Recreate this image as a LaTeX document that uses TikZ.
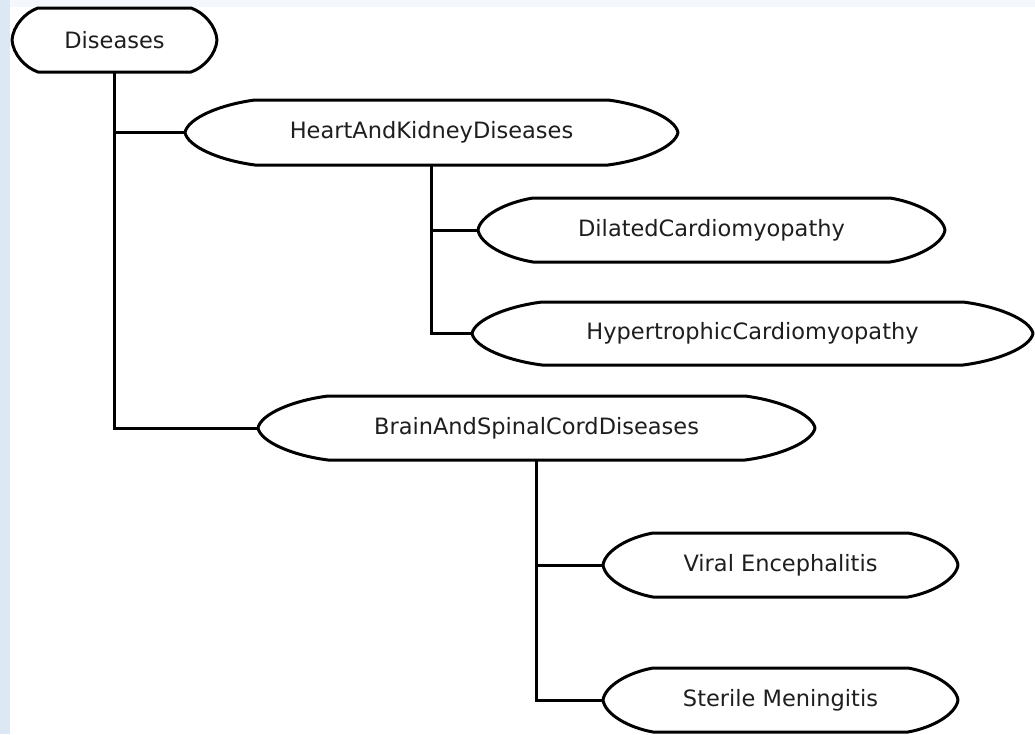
\documentclass[tikz,border=0pt]{standalone}
\usepackage{fontspec}
\setmainfont{DejaVu Sans}
\usetikzlibrary{calc}
\definecolor{bgleft}{RGB}{221,232,245}
\definecolor{bgtop}{RGB}{244,248,253}
\definecolor{txt}{RGB}{30,30,30}
\tikzset{
  box/.style={inner sep=0pt, outer sep=0pt, text=txt, font=\fontsize{22.5}{26}\selectfont},
  outline/.style={line width=3pt, black, line join=round},
  conn/.style={line width=3pt, black},
}
\newcommand\capsuleshape[2]{%
  \draw[outline] let \p1=(#1.north west), \p2=(#1.south east),
     \n1={(\y1+\y2)/2}, \n2={\y1-\y2} in
   ({\x1+#2},\y1) -- ({\x2-#2},\y1)
   .. controls ({\x2-0.5*#2},{\y1-0.07*\n2}) and ({\x2-0.04*#2},{\n1+0.22*\n2}) .. (\x2,\n1)
   .. controls ({\x2-0.04*#2},{\n1-0.22*\n2}) and ({\x2-0.5*#2},{\y2+0.07*\n2}) .. ({\x2-#2},\y2)
   -- ({\x1+#2},\y2)
   .. controls ({\x1+0.5*#2},{\y2+0.07*\n2}) and ({\x1+0.04*#2},{\n1-0.22*\n2}) .. (\x1,\n1)
   .. controls ({\x1+0.04*#2},{\n1+0.22*\n2}) and ({\x1+0.5*#2},{\y1-0.07*\n2}) .. cycle;}
\begin{document}
\begin{tikzpicture}[x=1pt,y=1pt]
\useasboundingbox (0,0) rectangle (1035,-734);
\fill[white] (0,0) rectangle (1035,-734);
\fill[bgtop] (0,0) rectangle (1035,-7);
\fill[bgleft] (0,0) rectangle (10,-734);

\node[box, minimum width=205pt, minimum height=64pt] (dis) at (114.5,-40) {Diseases};
\node[box, minimum width=493pt, minimum height=65pt] (hk) at (431.5,-132.5) {HeartAndKidneyDiseases};
\node[box, minimum width=467pt, minimum height=64pt] (dil) at (711.5,-230) {DilatedCardiomyopathy};
\node[box, minimum width=561pt, minimum height=63pt] (hyp) at (752.5,-333.5) {HypertrophicCardiomyopathy};
\node[box, minimum width=557pt, minimum height=64pt] (brain) at (536.5,-428) {BrainAndSpinalCordDiseases};
\node[box, minimum width=355pt, minimum height=64pt] (vir) at (780.5,-565) {Viral Encephalitis};
\node[box, minimum width=355pt, minimum height=64pt] (ster) at (780.5,-700) {Sterile Meningitis};

\capsuleshape{dis}{26}
\capsuleshape{hk}{70}
\capsuleshape{dil}{55}
\capsuleshape{hyp}{70}
\capsuleshape{brain}{70}
\capsuleshape{vir}{50}
\capsuleshape{ster}{50}

\draw[conn] (dis.south) |- (brain.west);
\draw[conn] (dis.south |- hk.west) -- (hk.west);
\draw[conn] (hk.south) |- (hyp.west);
\draw[conn] (hk.south |- dil.west) -- (dil.west);
\draw[conn] (brain.south) |- (ster.west);
\draw[conn] (brain.south |- vir.west) -- (vir.west);
\end{tikzpicture}
\end{document}
